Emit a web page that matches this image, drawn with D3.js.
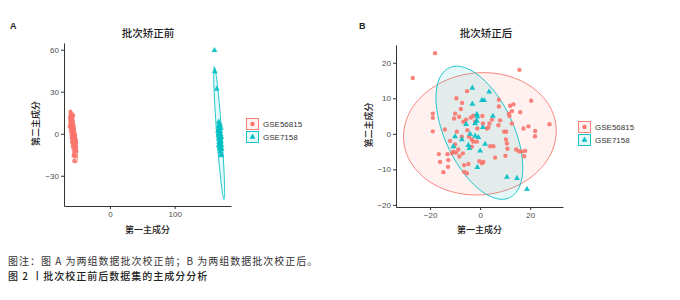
<!DOCTYPE html>
<html lang="zh">
<head>
<meta charset="UTF-8">
<title>PCA before / after batch correction</title>
<script src="https://d3js.org/d3.v7.min.js"></script>
<style>
  body { margin: 0; background: #fff; }
  svg { display: block; }
  .tick text { font-family: "Liberation Sans", Arial, sans-serif; font-size: 8px; fill: #4d4d4d; }
  .cjk { font-family: "Noto Sans CJK SC", sans-serif; }
</style>
</head>
<body>
<svg width="680" height="300"></svg>
<script>
// groups and colours
const groups = ["GSE56815", "GSE7158"];
const colors = ["#F8766D", "#00BFC4"];

// panel A: before batch correction (PC1, PC2)
const redA = [
  [-61, 15.5], [-60, 13.5], [-61.5, 12], [-59, 14], [-60.5, 10.5], [-58.5, 11.5], [-60, 9], [-59, 8],
  [-61, 7], [-58, 9.5], [-59.5, 6], [-57.5, 7], [-60, 5], [-58, 5.5], [-59, 4], [-57, 4.5],
  [-58.5, 3], [-56.5, 2.5], [-59, 2], [-57.5, 1.5], [-56, 1], [-58, 0.5], [-57, 0], [-55.5, -0.5],
  [-58.5, -1], [-56.5, -1.5], [-55, -2], [-57.5, -2.5], [-56, -3], [-54.5, -3.5], [-57, -4], [-55.5, -4.5],
  [-54, -5], [-56.5, -5.5], [-55, -6], [-53.5, -6.5], [-56, -7], [-54.5, -7.5], [-53, -8], [-55.5, -8.5],
  [-54, -9], [-52.5, -9.5], [-55, -10], [-53.5, -10.5], [-54.5, -11.5], [-53, -12], [-55, -14.5], [-56, -15.5],
  [-55, -19.5], [-57, 13], [-59.5, 11], [-58, 12.5], [-61, 9.5], [-57, 6], [-56, 3.5], [-55, 0],
  [-54, -1.5], [-53, -4], [-52.5, -6], [-57, -9], [-58, -6], [-59, -3], [-60, 2], [-62, 5],
  [-52, -12.5], [-53.5, -16]
];
const tealA = [
  [161.5, 59.5], [162, 44.5], [165, 32], [168, 8.5], [169.5, 7], [167.5, 5], [170, 5.5], [171.5, 4],
  [168.5, 3], [170.5, 2], [169, 0.5], [171, -0.5], [167.5, -1], [169.5, -2], [172, -2.5], [168.5, -3.5],
  [170.5, -4], [171.5, -5.5], [169, -6], [170, -7.5], [172, -8], [168, -8.5], [171, -9.5], [169.5, -10.5],
  [172.5, -11], [170.5, -12.5], [171.5, -14.5], [172, -15.5], [169.5, 6.5], [167, 2]
];
// ellipses: centre, two semi-axis vectors (data units)
const ellA = [
  { c: [-56.5, -2], u: [-4.5, 19], v: [4.6, 0.2] },
  { c: [168.7, 0.5], u: [-7.5, 47.4], v: [3.9, 0.13] }
];

// panel B: after batch correction
const redB = [
  [-18.0, 22.7], [-26.9, 15.7], [15.7, 18.0], [-9.5, 10.0], [-5.2, 12.0], [-18.9, 5.7], [-18.9, 4.5], [-18.9, 0.7],
  [-14.1, 1.2], [-16.5, -5.7], [-16.0, -7.9], [-14.7, -10.8], [-12.8, -9.3], [-7.7, 7.0], [-8.4, 4.8], [-10.4, 4.3],
  [-6.7, 3.4], [-5.6, 4.0], [-3.7, 4.6], [-2.7, 5.1], [0.9, 5.0], [1.1, 2.9], [-7.2, 8.7], [7.5, 9.6],
  [7.5, 7.7], [12.0, 7.9], [12.7, 6.4], [11.5, 5.7], [16.0, 6.1], [11.7, 5.0], [20.4, 9.3], [22.0, 0.8],
  [19.3, 2.1], [17.3, 1.5], [21.9, -0.7], [27.7, 2.7], [7.3, 2.4], [9.6, 0.6], [10.4, 0.6], [10.3, -1.6],
  [10.7, -2.7], [5.3, -3.5], [4.0, -3.5], [6.0, -6.7], [10.1, -6.2], [10.9, -4.2], [14.4, -4.4], [15.5, -4.9],
  [16.7, -5.0], [18.0, -4.8], [17.6, -6.3], [2.7, 1.5], [3.3, 1.8], [3.7, 2.9], [4.7, 4.0], [-12.0, -2.0],
  [-10.0, -3.0], [-10.7, -5.0], [-9.6, -5.3], [-11.3, -5.5], [-13.1, -5.7], [-8.7, -4.4], [-8.3, -6.4], [-6.9, -5.5],
  [-6.4, -8.8], [-4.7, -8.5], [-5.3, -11.1], [-6.4, -10.7], [-3.3, -3.6], [-2.7, -2.2], [-4.5, -0.8], [-3.3, -1.6],
  [-1.3, -2.2], [-0.3, -7.7], [0.7, -8.3], [1.3, -7.9], [-10.0, 5.7], [-2.0, 3.5], [-1.1, 1.5], [-12.7, -7.4],
  [-9.3, 0.6], [-5.1, 1.0], [-7.3, -0.8], [8.0, 3.8], [12.7, 2.9], [13.3, 8.3]
];
const tealB = [
  [-3.1, 12.9], [3.6, 11.8], [0.7, 9.4], [1.6, 9.4], [-3.1, 8.4], [-1.3, 5.5], [-1.1, 4.8], [5.1, 5.0],
  [-5.6, 2.7], [-2.0, 2.9], [-1.3, 3.6], [1.1, 1.8], [-10.0, -0.8], [-7.3, -1.6], [-4.0, -0.1], [-2.0, -0.6],
  [-0.7, -1.0], [-10.7, -3.6], [-4.7, -3.2], [-4.3, -4.1], [2.0, -2.9], [0.0, -4.8], [-1.1, -9.4], [10.7, -12.2],
  [14.7, -12.5], [18.7, -15.6]
];
const ellB = [
  { c: [-0.1, 0], u: [30.5, 0.8], v: [0, 17.2] },
  { c: [-0.3, 0.3], u: [12, -18.3], v: [12.5, 4.0] }
];

const ticksAx = [0, 100], ticksAy = [-30, 0, 30, 60];
const ticksBx = [-20, 0, 20], ticksBy = [-20, -10, 0, 10, 20];

const svg = d3.select("svg");

function drawPanel(cfg) {
  const g = svg.append("g");
  const x = d3.scaleLinear().domain(cfg.xd).range([cfg.left, cfg.right]);
  const y = d3.scaleLinear().domain(cfg.yd).range([cfg.bottom, cfg.top]);

  // ellipses
  const line = d3.line().x(d => x(d[0])).y(d => y(d[1]));
  const ts = d3.range(0, 2 * Math.PI + 0.01, Math.PI / 90);
  cfg.ell.forEach((e, i) => {
    const pts = ts.map(t => [
      e.c[0] + e.u[0] * Math.cos(t) + e.v[0] * Math.sin(t),
      e.c[1] + e.u[1] * Math.cos(t) + e.v[1] * Math.sin(t)
    ]);
    g.append("path").attr("d", line(pts) + "Z")
      .attr("fill", colors[i]).attr("fill-opacity", 0.1)
      .attr("stroke", colors[i]).attr("stroke-width", 0.9);
  });

  // points
  const sym = [d3.symbol(d3.symbolCircle, 15), d3.symbol(d3.symbolTriangle, 15)];
  [cfg.red, cfg.teal].forEach((arr, i) => {
    g.selectAll(null).data(arr).join("path")
      .attr("transform", d => `translate(${x(d[0])},${y(d[1])})`)
      .attr("d", sym[i]())
      .attr("fill", colors[i]).attr("fill-opacity", 0.9);
  });

  // axes
  const ax = g.append("g").attr("transform", `translate(0,${cfg.bottom})`)
    .call(d3.axisBottom(x).tickValues(cfg.tx).tickSize(3).tickSizeOuter(0).tickPadding(2));
  const ay = g.append("g").attr("transform", `translate(${cfg.left},0)`)
    .call(d3.axisLeft(y).tickValues(cfg.ty).tickSize(3).tickSizeOuter(0).tickPadding(2));
  [ax, ay].forEach(a => {
    a.select(".domain").attr("stroke", "#333").attr("stroke-width", 1);
    a.selectAll(".tick line").attr("stroke", "#333");
  });
  ay.selectAll(".tick text").text(d => d < 0 ? "\u2212" + Math.abs(d) : d);
  ax.selectAll(".tick text").text(d => d < 0 ? "\u2212" + Math.abs(d) : d);

  // titles
  g.append("text").attr("x", cfg.letterX).attr("y", 29)
    .attr("font-family", "Liberation Sans, Arial, sans-serif").attr("font-size", 9).attr("font-weight", "bold")
    .attr("fill", "#222").text(cfg.letter);
  g.append("text").attr("class", "cjk").attr("x", cfg.titleX).attr("y", 37)
    .attr("text-anchor", "middle").attr("font-size", 10.5).attr("font-weight", 500)
    .attr("fill", "#222").text(cfg.title);
  g.append("text").attr("class", "cjk").attr("x", (cfg.left + cfg.right) / 2).attr("y", 233)
    .attr("text-anchor", "middle").attr("font-size", 9).attr("font-weight", 500)
    .attr("fill", "#222").text("第一主成分");
  g.append("text").attr("class", "cjk")
    .attr("transform", `translate(${cfg.ytX},${(cfg.top + cfg.bottom) / 2 - 1}) rotate(-90)`)
    .attr("text-anchor", "middle").attr("font-size", 9).attr("font-weight", 500)
    .attr("fill", "#222").text("第二主成分");

  // legend
  groups.forEach((name, i) => {
    const ly = cfg.legY + i * 13;
    const k = g.append("g").attr("transform", `translate(${cfg.legX},${ly})`);
    k.append("rect").attr("x", 0.5).attr("y", 0.5).attr("width", 12).attr("height", 11)
      .attr("fill", colors[i]).attr("fill-opacity", 0.1)
      .attr("stroke", colors[i]).attr("stroke-width", 0.9);
    k.append("path").attr("transform", "translate(6.5,6)")
      .attr("d", sym[i]()).attr("fill", colors[i]);
    k.append("text").attr("x", 17).attr("y", 9)
      .attr("font-family", "Liberation Sans, Arial, sans-serif").attr("font-size", 8)
      .attr("fill", "#333").text(name);
  });
}

drawPanel({
  left: 64, right: 231, top: 43, bottom: 206,
  xd: [-71, 187], yd: [-51.6, 64.8], tx: ticksAx, ty: ticksAy,
  red: redA, teal: tealA, ell: ellA,
  letter: "A", letterX: 10, title: "批次矫正前", titleX: 148, ytX: 39,
  legX: 246, legY: 118
});
drawPanel({
  left: 396, right: 563, top: 45, bottom: 207,
  xd: [-33.6, 33.1], yd: [-20.6, 25.0], tx: ticksBx, ty: ticksBy,
  red: redB, teal: tealB, ell: ellB,
  letter: "B", letterX: 359, title: "批次矫正后", titleX: 486, ytX: 372,
  legX: 578, legY: 121
});

// caption
svg.append("text").attr("class", "cjk").attr("x", 8).attr("y", 264.5)
  .attr("font-size", 10).attr("letter-spacing", 1).attr("fill", "#333")
  .text("图注：图 A 为两组数据批次校正前；B 为两组数据批次校正后。");
svg.append("text").attr("class", "cjk").attr("x", 8).attr("y", 279.5)
  .attr("font-size", 10).attr("letter-spacing", 1).attr("font-weight", 500).attr("fill", "#222")
  .text("图 2 丨批次校正前后数据集的主成分分析");
</script>
</body>
</html>
